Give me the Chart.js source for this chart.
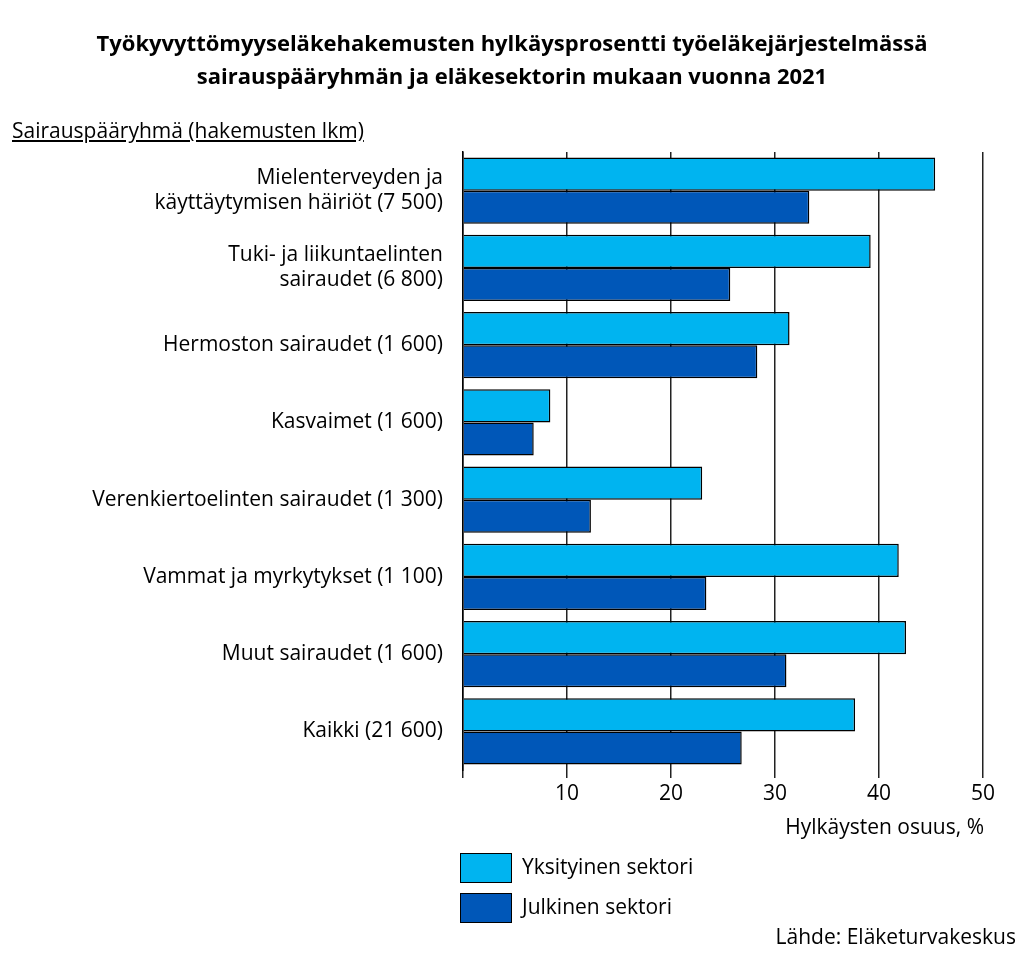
<!DOCTYPE html>
<html>
<head>
<meta charset="utf-8">
<script src="https://cdn.jsdelivr.net/npm/chart.js@4"></script>
<style>
  body { margin: 0; background: #fff; font-family: "Open Sans", sans-serif; }
  #wrap { position: relative; width: 1024px; height: 962px; }
  canvas { position: absolute; left: 0; top: 0; }
  .txt { position: absolute; color: #000; }
  .title { left: 0; width: 1024px; top: 26px; text-align: center; font-weight: bold; font-size: 22px; line-height: 33px; }
  .ylab { left: 12px; top: 116px; font-size: 21px; text-decoration: underline; }
  .xlab { right: 40px; top: 812px; font-size: 21px; }
  .src { right: 8px; top: 922px; font-size: 21px; }
  .leg { left: 460px; font-size: 21px; }
  .leg span { display: inline-block; width: 50px; height: 28px; border: 1.5px solid #000; vertical-align: middle; margin-right: 10px; }
</style>
</head>
<body>
<div id="wrap">
  <canvas id="c" width="1024" height="962"></canvas>
  <div class="txt title">Työkyvyttömyyseläkehakemusten hylkäysprosentti työeläkejärjestelmässä<br>sairauspääryhmän ja eläkesektorin mukaan vuonna 2021</div>
  <div class="txt ylab">Sairauspääryhmä (hakemusten lkm)</div>
  <div class="txt xlab">Hylkäysten osuus, %</div>
  <div class="txt leg" style="top:852px"><span style="background:#00b4f0"></span>Yksityinen sektori</div>
  <div class="txt leg" style="top:892px"><span style="background:#0057b8"></span>Julkinen sektori</div>
  <div class="txt src">Lähde: Eläketurvakeskus</div>
</div>
<script>
const categories = [
  ['Mielenterveyden ja', 'käyttäytymisen häiriöt (7 500)'],
  ['Tuki- ja liikuntaelinten', 'sairaudet (6 800)'],
  'Hermoston sairaudet (1 600)',
  'Kasvaimet (1 600)',
  'Verenkiertoelinten sairaudet (1 300)',
  'Vammat ja myrkytykset (1 100)',
  'Muut sairaudet (1 600)',
  'Kaikki (21 600)'
];
const privateSector = [45.4, 39.2, 31.4, 8.4, 23.0, 41.9, 42.6, 37.7];
const publicSector = [33.3, 25.7, 28.3, 6.8, 12.3, 23.4, 31.1, 26.8];

const font = { family: '"Open Sans", sans-serif', size: 21 };

new Chart(document.getElementById('c'), {
  type: 'bar',
  data: {
    labels: categories,
    datasets: [
      { label: 'Yksityinen sektori', data: privateSector, backgroundColor: '#00b4f0', borderColor: '#000', borderWidth: 1.5 },
      { label: 'Julkinen sektori', data: publicSector, backgroundColor: '#0057b8', borderColor: '#000', borderWidth: 1.5 }
    ]
  },
  options: {
    indexAxis: 'y',
    responsive: false,
    animation: false,
    categoryPercentage: 0.86,
    barPercentage: 1,
    layout: { padding: { top: 152, right: 41, bottom: 152, left: 0 } },
    plugins: { legend: { display: false }, tooltip: { enabled: false } },
    scales: {
      x: {
        min: 0, max: 50,
        ticks: { stepSize: 10, color: '#000', font: font, callback: v => v === 0 ? '' : v },
        grid: { color: '#222', lineWidth: 1.5, tickLength: 8 },
        border: { display: false },
        afterFit: s => { s.height = 40; }
      },
      y: {
        ticks: { color: '#000', font: font, padding: 12 },
        grid: { display: false },
        border: { color: '#000', width: 1.5 },
        afterFit: s => { s.width = 463; }
      }
    }
  }
});
</script>
</body>
</html>
